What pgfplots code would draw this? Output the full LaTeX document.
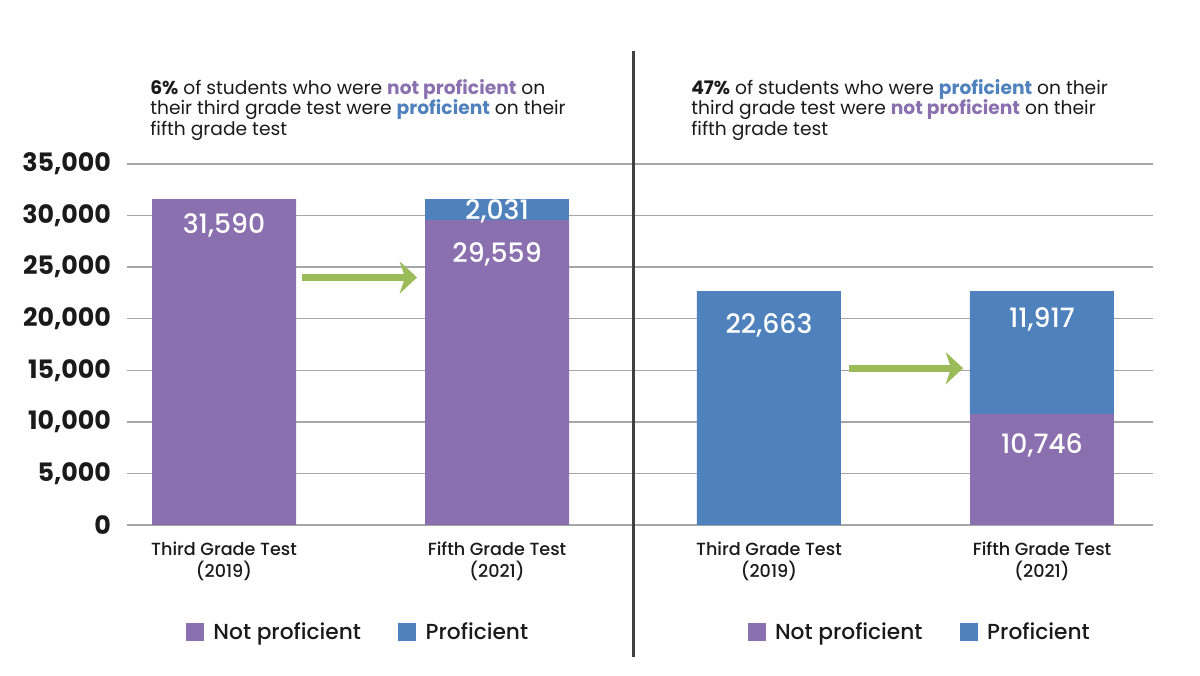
\documentclass[border=0pt]{standalone}
\usepackage{pgfplots}
\pgfplotsset{compat=1.18}
\usetikzlibrary{arrows.meta}
\usepackage{fontspec}
\setmainfont{Poppins}
\newfontfamily\popmed{Poppins Medium}
\definecolor{purp}{HTML}{8A70AE}
\definecolor{blu}{HTML}{4F81BD}
\definecolor{grn}{HTML}{9BBB59}
\definecolor{gridgray}{HTML}{A6A6A6}
\definecolor{divgray}{HTML}{404040}
\definecolor{txt}{HTML}{1A1A1A}
\pgfplotsset{
  panel/.style={
    scale only axis, height=270.75pt,
    ymin=0, ymax=35000, ytick={0,5000,...,35000}, scaled y ticks=false,
    ymajorgrids, grid style={line width=1.1pt, color=gridgray},
    axis line style={draw=none}, tick style={draw=none},
    xtick={0,1},
    xticklabels={{Third Grade Test\\(2019)},{Fifth Grade Test\\(2021)}},
    xticklabel style={align=center, text=txt, font=\popmed\fontsize{13.2}{16.5}\selectfont, yshift=-9pt},
    ybar stacked, bar width=108pt,
    enlargelimits=false, clip=false,
    /pgf/number format/.cd, 1000 sep={,}, assume math mode=true,
  },
  legstyle/.style={
    legend columns=2,
    legend style={draw=none, fill=none, font=\popmed\fontsize{16.3}{18}\selectfont, text=txt,
      anchor=center, inner sep=0pt,
      /tikz/every odd column/.append style={column sep=5pt},
      /tikz/every even column/.append style={column sep=26pt}},
    legend image code/.code={\fill[##1,draw=none] (0pt,-6.75pt) rectangle (13.5pt,6.75pt);},
  },
}
\tikzset{dlab/.style={white, font=\popmed\fontsize{20}{22}\selectfont}}
\begin{document}
\begin{tikzpicture}
\path[use as bounding box] (0,0) rectangle (900pt,506.25pt);
% left panel
\begin{axis}[panel, legstyle, at={(95.25pt,112.5pt)}, anchor=south west, width=379.5pt,
  xmin=-0.3553, xmax=1.498,
  yticklabel style={font=\bfseries\fontsize{19}{22}\selectfont, text=txt, xshift=-8.5pt},
  legend style={at={(0.4575,-0.296)}}]
\addplot+[fill=purp, draw=none] coordinates {(0,31590) (1,29559)};
\addplot+[fill=blu, draw=none] coordinates {(0,0) (1,2031)};
\legend{Not proficient, Proficient}
\draw[grn, line width=5pt, -{Stealth[length=13pt, width=24pt, inset=4pt]}] (axis cs:0.286,24000) -- (axis cs:0.707,24000);
\draw[white!75!purp, line width=0.8pt] (axis cs:0.737,29559) -- (axis cs:1.263,29559);
\coordinate (a1) at (axis cs:0,29000);
\coordinate (a2) at (axis cs:1,26200);
\coordinate (a3) at (axis cs:1,30400);
\end{axis}
% right panel
\begin{axis}[panel, legstyle, at={(474.75pt,112.5pt)}, anchor=south west, width=390pt,
  xmin=-0.498, xmax=1.4066, yticklabels={},
  legend style={at={(0.552,-0.296)}}]
\addplot+[fill=purp, draw=none] coordinates {(0,0) (1,10746)};
\addplot+[fill=blu, draw=none] coordinates {(0,22663) (1,11917)};
\legend{Not proficient, Proficient}
\draw[grn, line width=5pt, -{Stealth[length=13pt, width=24pt, inset=4pt]}] (axis cs:0.293,15200) -- (axis cs:0.711,15200);
\draw[white!75!purp, line width=0.8pt] (axis cs:0.737,10746) -- (axis cs:1.263,10746);
\coordinate (b1) at (axis cs:0,19391);
\coordinate (b2) at (axis cs:1,19950);
\coordinate (b3) at (axis cs:1,7756);
\end{axis}
% data labels
\node[dlab] at (a1) {31,590};
\node[dlab] at (a2) {29,559};
\node[dlab] at (a3) {2,031};
\node[dlab] at (b1) {22,663};
\node[dlab] at (b2) {11,917};
\node[dlab] at (b3) {10,746};
% divider
\draw[divgray, line width=2.25pt] (474.75pt,468pt) -- (474.75pt,13.5pt);
% headings
\begin{scope}[every node/.style={anchor=base west, inner sep=0pt, text=txt, font=\fontsize{14}{16}\selectfont}]
\node at (112.5pt,435.4pt) {{\bfseries 6\%} of students who were {\bfseries\color{purp}not proficient} on};
\node at (112.5pt,420pt) {their third grade test were {\bfseries\color{blu}proficient} on their};
\node at (112.5pt,404.6pt) {fifth grade test};
\node at (518.25pt,435.4pt) {{\bfseries 47\%} of students who were {\bfseries\color{blu}proficient} on their};
\node at (518.25pt,420pt) {third grade test were {\bfseries\color{purp}not proficient} on their};
\node at (518.25pt,404.6pt) {fifth grade test};
\end{scope}
\end{tikzpicture}
\end{document}
